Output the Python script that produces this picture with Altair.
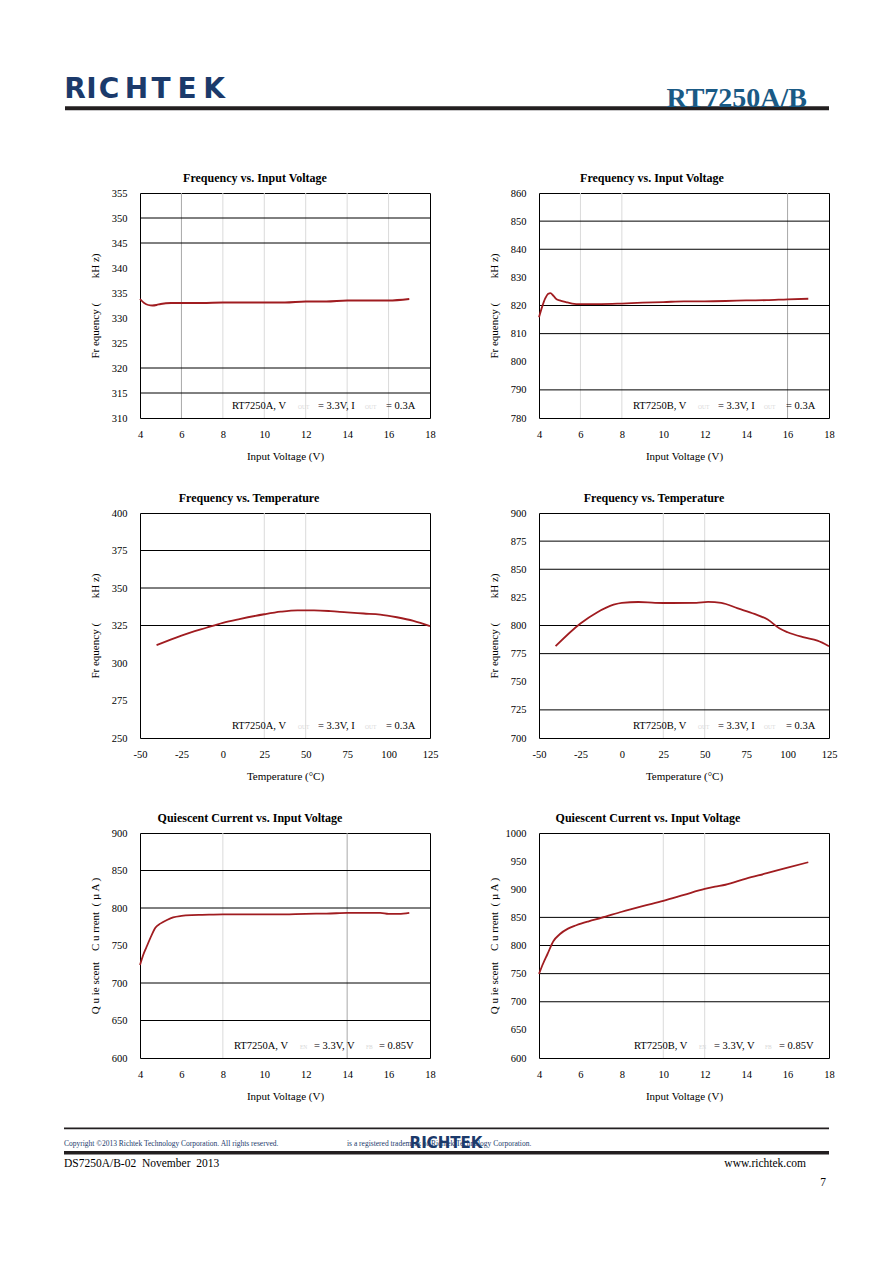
import altair as alt
import pandas as pd

FONT = "Liberation Serif"
LINE = "#a01c20"
NAVY = "#1b3a6b"
NB = "\u00a0"

# ---------------- data ----------------
vin_a_freq = [4.0, 4.2, 4.4, 4.6, 4.8, 5.0, 5.5, 6, 7, 8, 9, 10, 11, 12, 13, 14, 15, 16, 17]
freq_a_vin = [333.8, 333.0, 332.6, 332.5, 332.6, 332.8, 333.0, 333.0, 333.0, 333.1, 333.1, 333.1,
              333.1, 333.3, 333.3, 333.5, 333.5, 333.5, 333.8]

vin_b_freq = [4.0, 4.15, 4.3, 4.45, 4.55, 4.7, 4.85, 5.0, 5.3, 5.6, 6.0, 7, 8, 9, 10, 11, 12, 13,
              14, 15, 16, 17]
freq_b_vin = [815.8, 819.5, 822.5, 824.2, 824.4, 823.4, 822.2, 821.8, 821.2, 820.7, 820.5, 820.5,
              820.7, 821.0, 821.2, 821.5, 821.5, 821.6, 821.8, 821.9, 822.2, 822.4]

temp_a = [-40, -25, -10, 0, 10, 25, 35, 45, 55, 65, 75, 85, 95, 105, 115, 125]
freq_a_temp = [311.9, 318.3, 323.5, 326.8, 329.3, 332.5, 334.2, 335.1, 335.1, 334.6, 333.7, 333.0,
               332.3, 330.5, 328.1, 324.6]

temp_b = [-40, -25, -15, -5, 0, 10, 20, 30, 45, 52, 60, 70, 80, 88, 95, 100, 110, 118, 125]
freq_b_temp = [781.6, 801.8, 811.6, 818.5, 820.2, 820.9, 820.2, 820.0, 820.2, 821.0, 820.2, 815.2,
               810.3, 805.3, 797.5, 794.0, 789.4, 786.5, 781.6]

vin_a_iq = [4.0, 4.15, 4.3, 4.5, 4.75, 5.0, 5.3, 5.6, 6.0, 6.5, 7, 8, 9, 10, 11, 12, 13, 14, 15,
            15.6, 16, 16.5, 17]
iq_a = [724, 737, 747, 760, 774, 779.5, 784, 787.5, 789.5, 790.5, 790.8, 791.4, 791.4, 791.4,
        791.6, 792.3, 792.5, 793.5, 793.6, 793.6, 792.3, 792.3, 793.6]

vin_b_iq = [4.0, 4.2, 4.4, 4.7, 5.0, 5.4, 5.8, 6.4, 7.0, 8, 9, 10, 11, 12, 12.5, 13, 14, 15, 16, 17]
iq_b = [749.5, 768, 784, 808, 820, 830, 836, 843, 849, 860, 870, 879.5, 890, 900.5, 904.5, 908,
        919, 928.5, 938.5, 948]

vin_ticks = [4, 6, 8, 10, 12, 14, 16, 18]
temp_ticks = [-50, -25, 0, 25, 50, 75, 100, 125]

one = pd.DataFrame({"k": [0]})

FREQ_TITLE = "Fr equency (" + NB * 9 + "kH z)"
IQ_TITLE = "Q u ie scent" + NB * 4 + "C u rrent" + NB * 2 + "( \u00b5 A )"


def txt(s, x, y, size, color="black", align="left", baseline="middle", font=FONT, weight="normal"):
    return alt.Chart(one).mark_text(
        text=s, align=align, baseline=baseline, font=font, fontSize=size,
        color=color, fontWeight=weight
    ).encode(x=alt.value(x), y=alt.value(y))


def hrule(x1, x2, y, w, color="#231f20", opacity=1):
    return alt.Chart(one).mark_rule(color=color, strokeWidth=w, opacity=opacity).encode(
        x=alt.value(x1), x2=alt.value(x2), y=alt.value(y), y2=alt.value(y))


def panel(xs, ys, xdom, xvals, ydom, yvals, hgrid, vlight, vdark, title, tdx,
          xtitle, ytitle, annot):
    xsc = alt.Scale(domain=xdom, nice=False, zero=False)
    ysc = alt.Scale(domain=ydom, nice=False, zero=False)
    xax = alt.Axis(values=xvals, title=xtitle, labelPadding=11, titleY=38, labelFlush=False,
                   titleBaseline="middle", labelExpr="'' + datum.value")
    yax = alt.Axis(values=yvals, title=ytitle, labelPadding=13, titleX=-45, titleY=112.5,
                   labelFlush=False, titleAngle=270, titleAlign="center",
                   titleBaseline="middle", labelExpr="'' + datum.value")
    X = alt.X("x:Q", scale=xsc, axis=xax)
    Y = alt.Y("y:Q", scale=ysc, axis=yax)
    layers = []
    if vlight:
        layers.append(alt.Chart(pd.DataFrame({"x": vlight})).mark_rule(
            color="#dadada", strokeWidth=1).encode(x=X))
    if vdark:
        layers.append(alt.Chart(pd.DataFrame({"x": vdark})).mark_rule(
            color="#a8a8a8", strokeWidth=1).encode(x=X))
    layers.append(alt.Chart(pd.DataFrame({"y": hgrid})).mark_rule(
        color="black", strokeWidth=1).encode(y=Y))
    layers.append(alt.Chart(pd.DataFrame({"x": xs, "y": ys})).mark_line(
        color=LINE, strokeWidth=1.8, interpolate="monotone").encode(x=X, y=Y))
    for s, px, sub in annot:
        if sub:
            layers.append(txt(s, px, 213.5, 5.5, color="#d8d8d8"))
        else:
            layers.append(txt(s, px, 212.5, 10.5))
    return alt.layer(*layers).properties(
        width=290, height=225,
        title=alt.TitleParams(title, font=FONT, fontSize=12, fontWeight="bold", color="black",
                              anchor="middle", frame="group", dx=tdx, dy=12, offset=3,
                              baseline="bottom"),
        view=alt.ViewBackground(stroke="black", strokeWidth=1),
    )


annot_A = [("RT7250A, V", 92, False), ("OUT", 158, True), ("= 3.3V, I", 178, False),
           ("OUT", 225, True), ("= 0.3A", 246, False)]
annot_B = [("RT7250B, V", 94, False), ("OUT", 159, True), ("= 3.3V, I", 179, False),
           ("OUT", 225, True), ("= 0.3A", 247, False)]
annot_QA = [("RT7250A, V", 94, False), ("EN", 160, True), ("= 3.3V, V", 174, False),
            ("FB", 226, True), ("= 0.85V", 239, False)]
annot_QB = [("RT7250B, V", 95, False), ("EN", 160, True), ("= 3.3V, V", 175, False),
            ("FB", 226, True), ("= 0.85V", 240, False)]

c1 = panel(vin_a_freq, freq_a_vin, [4, 18], vin_ticks, [310, 355],
           [310, 315, 320, 325, 330, 335, 340, 345, 350, 355],
           [315, 320, 345, 350], [8, 10, 12, 14, 16], [6],
           "Frequency vs. Input Voltage", -30, "Input Voltage (V)", FREQ_TITLE, annot_A)
c2 = panel(vin_b_freq, freq_b_vin, [4, 18], vin_ticks, [780, 860],
           [780, 790, 800, 810, 820, 830, 840, 850, 860],
           [790, 810, 820, 840, 850], [6, 8], [16],
           "Frequency vs. Input Voltage", -32, "Input Voltage (V)", FREQ_TITLE, annot_B)
c3 = panel(temp_a, freq_a_temp, [-50, 125], temp_ticks, [250, 400],
           [250, 275, 300, 325, 350, 375, 400],
           [325, 350, 375], [25, 50], [],
           "Frequency vs. Temperature", -36, "Temperature (\u00b0C)", FREQ_TITLE, annot_A)
c4 = panel(temp_b, freq_b_temp, [-50, 125], temp_ticks, [700, 900],
           [700, 725, 750, 775, 800, 825, 850, 875, 900],
           [725, 775, 800, 850, 875], [25, 50], [],
           "Frequency vs. Temperature", -30, "Temperature (\u00b0C)", FREQ_TITLE, annot_B)
c5 = panel(vin_a_iq, iq_a, [4, 18], vin_ticks, [600, 900],
           [600, 650, 700, 750, 800, 850, 900],
           [650, 700, 800, 850], [8], [14],
           "Quiescent Current vs. Input Voltage", -35, "Input Voltage (V)", IQ_TITLE, annot_QA)
c6 = panel(vin_b_iq, iq_b, [4, 18], vin_ticks, [600, 1000],
           [600, 650, 700, 750, 800, 850, 900, 950, 1000],
           [700, 750, 800, 850], [10, 12], [],
           "Quiescent Current vs. Input Voltage", -36, "Input Voltage (V)", IQ_TITLE, annot_QB)

# ---------------- header (origin page x=139 / 538, y=87) ----------------
logo_letters = list("RICHTEK")
logo_centers = [-65, -48.5, -31, -3.5, 21, 47, 74]
anchor = alt.Chart(one).mark_rule(opacity=0).encode(
    x=alt.value(-131), x2=alt.value(-131), y=alt.value(-79), y2=alt.value(-79))
hl_layers = [anchor, hrule(-75, 689, 20.3, 4)]
for ch, cx in zip(logo_letters, logo_centers):
    hl_layers.append(txt(ch, cx, 10, 28, color=NAVY, align="center", baseline="alphabetic",
                         font="DejaVu Sans", weight="bold"))
header_left = alt.layer(*hl_layers).properties(width=290, height=10)
header_right = alt.layer(
    txt("RT7250A/B", 268, 19, 28, color="#1a5a85", align="right", baseline="alphabetic",
        weight="bold")
).properties(width=290, height=10)

# ---------------- footer (origin page x=139 / 538, y=1152) ----------------
footer_left = alt.layer(
    hrule(-76, 689, -24.7, 1.8),
    txt("Copyright \u00a92013 Richtek Technology Corporation. All rights reserved.", -76, -9.3,
        7.5, color=NAVY),
    txt("is a registered trademark of Richtek Technology Corporation.", 207, -9.3, 7.5,
        color=NAVY),
    txt("RICHTEK", 306, -10.5, 15, color=NAVY, align="center", font="DejaVu Sans",
        weight="bold"),
    hrule(-76, 689, -0.3, 3.5),
    txt("DS7250A/B-02" + NB * 2 + "November" + NB * 2 + "2013", -76, 11.3, 11.5),
).properties(width=290, height=10)
footer_right = alt.layer(
    txt("www.richtek.com", 267, 11.3, 11.5, align="right"),
    txt("7", 284, 30, 11.5, align="center"),
).properties(width=290, height=10)

chart = alt.concat(
    header_left, header_right, c1, c2, c3, c4, c5, c6, footer_left, footer_right,
    columns=2, spacing={"row": 95, "column": 109}, bounds="flush", align="each",
).properties(padding=0, background="white").configure_view(
    stroke="transparent"
).configure_axis(
    labelFont=FONT, labelFontSize=10.5, labelColor="black", titleFont=FONT, titleFontSize=11,
    titleFontWeight="normal", titleColor="black", domain=False, ticks=False, tickSize=0,
    grid=False,
)

chart.save("out.html", embed_options={"renderer": "svg", "actions": False})
